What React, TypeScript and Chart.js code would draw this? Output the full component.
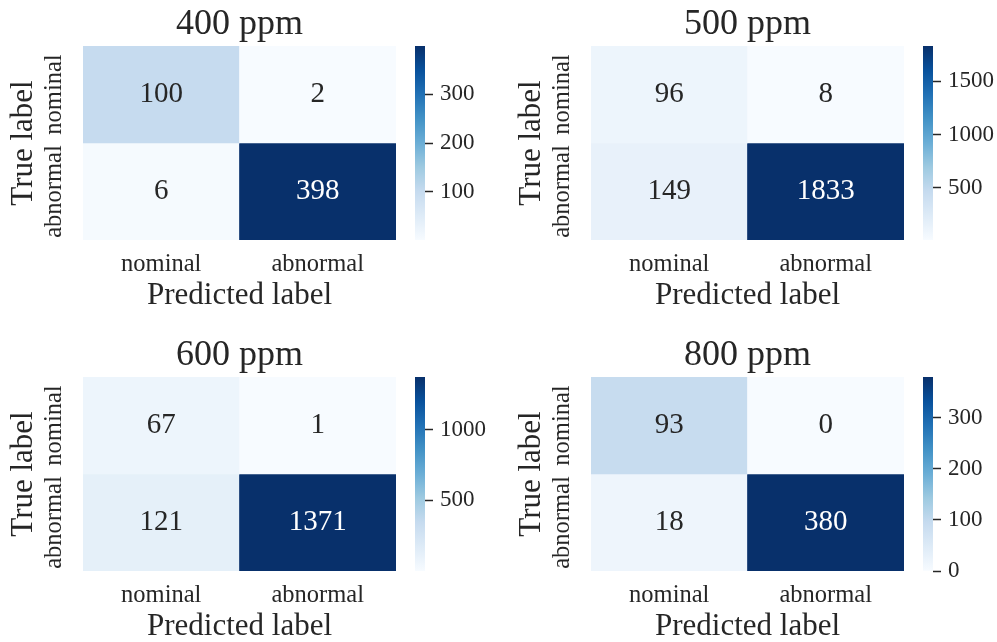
import React, { useEffect, useRef } from 'react';
import { Chart, registerables } from 'chart.js';

Chart.register(...registerables);

// ---------------- data ----------------
const predictedLabels = ['nominal', 'abnormal'];
const trueLabels = ['nominal', 'abnormal'];
const panelTitles = ['400 ppm', '500 ppm', '600 ppm', '800 ppm'];

const cm400 = [
  [100, 2],
  [6, 398],
];
const cm500 = [
  [96, 8],
  [149, 1833],
];
const cm600 = [
  [67, 1],
  [121, 1371],
];
const cm800 = [
  [93, 0],
  [18, 380],
];

const cbTicks400 = [100, 200, 300];
const cbTicks500 = [500, 1000, 1500];
const cbTicks600 = [500, 1000];
const cbTicks800 = [0, 100, 200, 300];

const matrices = [cm400, cm500, cm600, cm800];
const colorbarTicks = [cbTicks400, cbTicks500, cbTicks600, cbTicks800];

// Matplotlib "Blues" colormap
const bluesStops = ['#f7fbff', '#deebf7', '#c6dbef', '#9ecae1', '#6baed6', '#4292c6', '#2171b5', '#08519c', '#08306b'];

// ---------------- style ----------------
const FONT = "'Liberation Serif', 'Times New Roman', serif";
const TEXT = '#262626';
const PANEL_OFFSETS = [
  { x: 0, y: 0 },
  { x: 508, y: 0 },
  { x: 0, y: 331 },
  { x: 508, y: 331 },
];

function hexToRgb(h: string) {
  const n = parseInt(h.slice(1), 16);
  return [(n >> 16) & 255, (n >> 8) & 255, n & 255];
}

function blues(t: number): number[] {
  const tt = Math.max(0, Math.min(1, t));
  const pos = tt * (bluesStops.length - 1);
  const i = Math.min(bluesStops.length - 2, Math.floor(pos));
  const f = pos - i;
  const a = hexToRgb(bluesStops[i]);
  const b = hexToRgb(bluesStops[i + 1]);
  return [0, 1, 2].map((k) => Math.round(a[k] + (b[k] - a[k]) * f));
}

function rgbStr(c: number[]) {
  return `rgb(${c[0]},${c[1]},${c[2]})`;
}

function textColorFor(c: number[]) {
  const lin = c.map((v) => {
    const x = v / 255;
    return x <= 0.03928 ? x / 12.92 : Math.pow((x + 0.055) / 1.055, 2.4);
  });
  const lum = 0.2126 * lin[0] + 0.7152 * lin[1] + 0.0722 * lin[2];
  return lum > 0.408 ? TEXT : '#ffffff';
}

function Panel({ index }: { index: number }) {
  const heatRef = useRef<HTMLCanvasElement>(null);
  const barRef = useRef<HTMLCanvasElement>(null);
  const matrix = matrices[index];
  const off = PANEL_OFFSETS[index];

  useEffect(() => {
    const flat = matrix.flat();
    const vmin = Math.min(...flat);
    const vmax = Math.max(...flat);
    const norm = (v: number) => (v - vmin) / (vmax - vmin);
    const cellColors = matrix.map((row) => row.map((v) => blues(norm(v))));

    const annotPlugin = {
      id: 'annot' + index,
      afterDatasetsDraw(chart: any) {
        const ctx = chart.ctx;
        ctx.save();
        ctx.font = `29px ${FONT}`;
        ctx.textAlign = 'center';
        ctx.textBaseline = 'middle';
        chart.data.datasets.forEach((_ds: any, r: number) => {
          const meta = chart.getDatasetMeta(r);
          meta.data.forEach((el: any, c: number) => {
            const p = el.getCenterPoint();
            ctx.fillStyle = textColorFor(cellColors[r][c]);
            ctx.fillText(String(matrix[r][c]), p.x, p.y);
          });
        });
        ctx.restore();
      },
    };

    const heat = new Chart(heatRef.current!, {
      type: 'bar',
      data: {
        labels: predictedLabels,
        datasets: trueLabels.map((lab, r) => ({
          label: lab,
          data: predictedLabels.map(() => [r, r + 1]),
          backgroundColor: cellColors[r].map(rgbStr),
          borderWidth: 0,
          barPercentage: 1,
          categoryPercentage: 1,
          borderSkipped: false,
        })) as any,
      },
      options: {
        responsive: false,
        animation: false,
        events: [],
        layout: { padding: { left: 0, right: 4, top: 0, bottom: 0 } },
        plugins: {
          legend: { display: false },
          tooltip: { enabled: false },
          title: {
            display: true,
            text: panelTitles[index],
            fullSize: false,
            color: TEXT,
            font: { family: FONT, size: 36, weight: 'normal', lineHeight: 1 },
            padding: { top: 7, bottom: 3 },
          },
        },
        scales: {
          x: {
            type: 'category',
            stacked: true,
            offset: true,
            grid: { display: false, drawTicks: false },
            border: { display: false },
            ticks: {
              color: TEXT,
              font: { family: FONT, size: 24.5, lineHeight: 1 },
              padding: 12.5,
              minRotation: 0,
              maxRotation: 0,
              autoSkip: false,
            },
            title: {
              display: true,
              text: 'Predicted label',
              color: TEXT,
              font: { family: FONT, size: 31, lineHeight: 1 },
              padding: { top: 0, bottom: 0 },
            },
            afterFit: (s: any) => {
              s.height = 71;
            },
          },
          y: {
            type: 'linear',
            min: 0,
            max: trueLabels.length,
            reverse: true,
            grid: { display: false, drawTicks: false },
            border: { display: false },
            afterBuildTicks: (s: any) => {
              s.ticks = trueLabels.map((_l, i) => ({ value: i + 0.5 }));
            },
            ticks: {
              callback: (_v: any, i: number) => trueLabels[i],
              minRotation: 90,
              maxRotation: 90,
              crossAlign: 'center',
              padding: -18,
              autoSkip: false,
              color: TEXT,
              font: { family: FONT, size: 24.5, lineHeight: 1 },
            },
            title: {
              display: true,
              text: 'True label',
              color: TEXT,
              font: { family: FONT, size: 31, lineHeight: 1 },
              padding: { top: 8, bottom: 0 },
            },
            afterFit: (s: any) => {
              s.width = 83;
            },
          },
        } as any,
      },
      plugins: [annotPlugin],
    });

    const ticksArr = colorbarTicks[index];
    const bar = new Chart(barRef.current!, {
      type: 'bar',
      data: {
        labels: [''],
        datasets: [
          {
            data: [[vmin, vmax]] as any,
            backgroundColor: (c: any) => {
              const chart = c.chart;
              if (!chart.chartArea || !chart.scales.y) return bluesStops[4];
              const ys = chart.scales.y;
              const g = chart.ctx.createLinearGradient(0, ys.getPixelForValue(vmin), 0, ys.getPixelForValue(vmax));
              bluesStops.forEach((col, i) => g.addColorStop(i / (bluesStops.length - 1), col));
              return g;
            },
            borderWidth: 0,
            barPercentage: 1,
            categoryPercentage: 1,
            borderSkipped: false,
          },
        ],
      },
      options: {
        responsive: false,
        animation: false,
        events: [],
        layout: { padding: { left: 10, right: 0, top: 46, bottom: 71 } },
        plugins: { legend: { display: false }, tooltip: { enabled: false } },
        scales: {
          x: { display: false, offset: true },
          y: {
            position: 'right',
            min: vmin,
            max: vmax,
            grid: { drawOnChartArea: false, drawTicks: true, tickLength: 8, tickColor: TEXT, tickWidth: 1.5 },
            border: { display: false },
            afterBuildTicks: (s: any) => {
              s.ticks = ticksArr.map((v) => ({ value: v }));
            },
            ticks: {
              color: TEXT,
              font: { family: FONT, size: 23, lineHeight: 1 },
              padding: 7,
              autoSkip: false,
              callback: (v: any) => String(v),
            },
            afterFit: (s: any) => {
              s.width = 64;
            },
          },
        } as any,
      },
    });

    return () => {
      heat.destroy();
      bar.destroy();
    };
  }, [index]);

  return (
    <>
      <canvas
        ref={heatRef}
        width={400}
        height={311}
        style={{ position: 'absolute', left: off.x, top: off.y, width: 400, height: 311 }}
      />
      <canvas
        ref={barRef}
        width={84}
        height={311}
        style={{ position: 'absolute', left: off.x + 405, top: off.y, width: 84, height: 311 }}
      />
    </>
  );
}

export default function App() {
  return (
    <div
      style={{
        position: 'fixed',
        left: 0,
        top: 0,
        width: 997,
        height: 642,
        background: '#ffffff',
        overflow: 'hidden',
      }}
    >
      {matrices.map((_m, i) => (
        <Panel key={i} index={i} />
      ))}
    </div>
  );
}
